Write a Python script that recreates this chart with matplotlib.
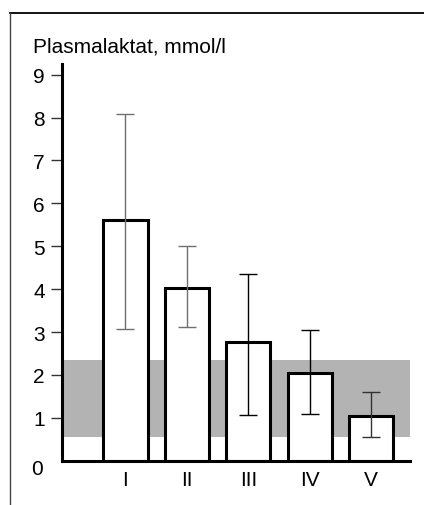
import numpy as np
import matplotlib
matplotlib.use("Agg")
import matplotlib.pyplot as plt

plt.rcParams['font.family'] = ['Liberation Sans', 'DejaVu Sans']

groups = ["I", "II", "III", "IV", "V"]
means = [5.62, 4.02, 2.76, 2.04, 1.05]
err_low = [3.08, 3.11, 1.07, 1.10, 0.55]
err_high = [8.08, 5.01, 4.36, 3.05, 1.60]
err_colors = ["#707070", "#707070", "black", "black", "#333333"]
ref_low, ref_high = 0.56, 2.35

fig = plt.figure(figsize=(4.24, 5.06), dpi=100)

# frame around the panel (top and left only)
fig.add_artist(plt.Line2D([10 / 424, 1.0], [1 - 14 / 506, 1 - 14 / 506],
                          transform=fig.transFigure, color="black", linewidth=1.3))
fig.add_artist(plt.Line2D([10 / 424, 10 / 424], [0, 1 - 14 / 506],
                          transform=fig.transFigure, color="#444444", linewidth=1.0))

ax = fig.add_axes([62 / 424, 44.3 / 506, 348 / 424, 396.8 / 506])

x = np.arange(len(groups))

# reference range
ax.axhspan(ref_low, ref_high, xmin=0, xmax=1, color="#b3b3b3", linewidth=0, zorder=1)

ax.bar(x, means, width=0.717, color="white", edgecolor="black", linewidth=2.2, zorder=2)

for i in range(len(groups)):
    ax.errorbar(x[i], means[i],
                yerr=[[means[i] - err_low[i]], [err_high[i] - means[i]]],
                fmt="none", ecolor=err_colors[i], elinewidth=1.0,
                capsize=6.5, capthick=1.0, zorder=3)

ax.set_xlim(-1.034, 4.633)
ax.set_ylim(0, 9.25)

ax.spines['top'].set_visible(False)
ax.spines['right'].set_visible(False)
ax.spines['left'].set_linewidth(2.2)
ax.spines['bottom'].set_linewidth(2.2)
ax.spines['left'].set_bounds(0, 9.25)

ax.set_yticks(range(1, 10))
ax.set_yticklabels([str(v) for v in range(1, 10)])
ax.tick_params(axis='y', direction='out', length=8, width=1.0, color="#333333",
               labelsize=15, pad=4.5)
ax.set_xticks(x)
ax.set_xticklabels(groups)
ax.tick_params(axis='x', length=0, labelsize=15, pad=7)

ax.text(43 / 424, 1 - 470 / 506, "0", transform=fig.transFigure, fontsize=15,
        ha="right", va="center")

fig.text(33 / 424, 1 - 47 / 506, "Plasmalaktat, mmol/l", fontsize=15,
         ha="left", va="center")

fig.savefig("out.png", dpi=100)
